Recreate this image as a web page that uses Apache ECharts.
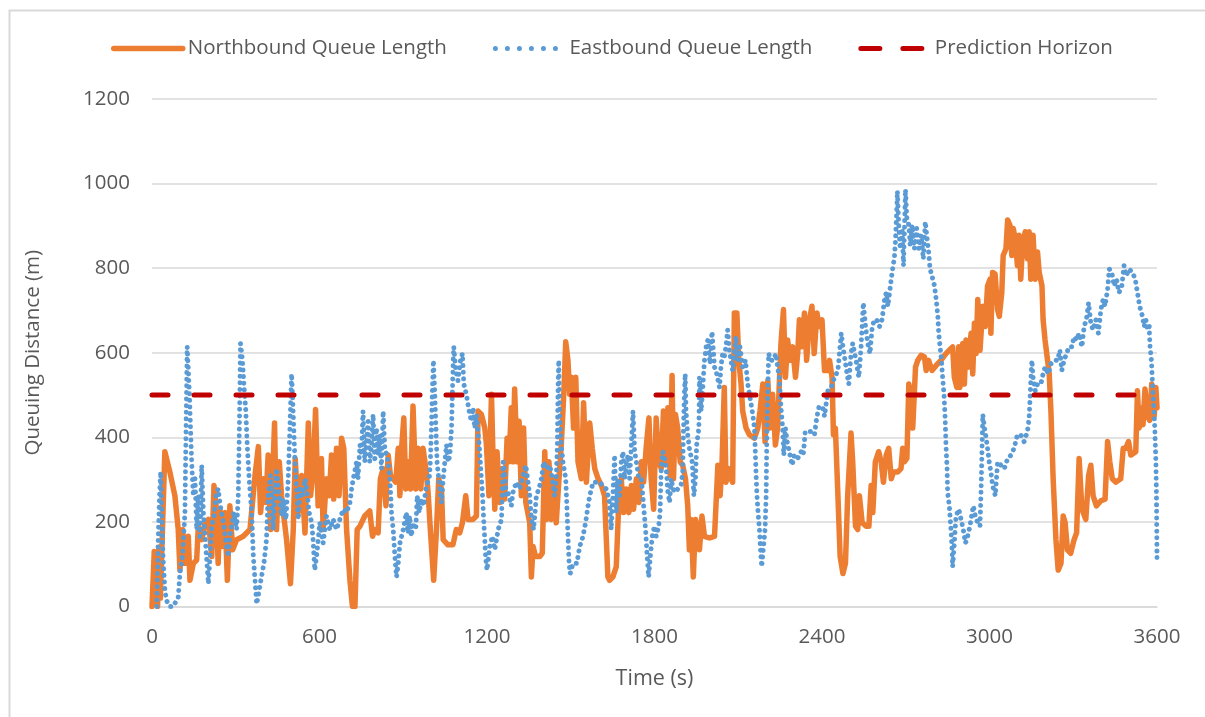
<!DOCTYPE html>
<html>
<head>
<meta charset="utf-8">
<script src="https://cdn.jsdelivr.net/npm/echarts@6/dist/echarts.min.js"></script>
<style>
html,body{margin:0;padding:0;background:#fff;}
#chart{width:1205px;height:717px;}
</style>
</head>
<body>
<div id="chart"></div>
<script>
// ---- data (time in s, queue length in m) ----
const seriesNames = ['Northbound Queue Length', 'Eastbound Queue Length', 'Prediction Horizon'];
const horizonValue = 500;
const timeRange = [0, 3600];

const northbound = [[0,0],[8,130],[12,10],[16,120],[20,0],[25,140],[30,20],[36,150],[46,366],[64,318],[82,262],[94,182],[100,86],[110,182],[118,102],[130,166],[136,62],[148,102],[160,110],[166,190],[178,158],[190,198],[202,206],[214,118],[222,286],[229,246],[237,102],[243,230],[253,142],[261,222],[270,62],[279,238],[289,134],[303,158],[327,166],[351,182],[369,310],[381,378],[389,222],[399,302],[408,246],[416,358],[425,182],[432,302],[439,434],[446,182],[456,342],[464,262],[472,214],[482,158],[496,54],[506,182],[513,350],[524,222],[536,310],[548,174],[560,434],[568,262],[577,318],[586,466],[595,238],[607,350],[613,182],[625,302],[635,262],[643,358],[651,254],[661,374],[670,262],[679,398],[687,374],[697,182],[709,62],[718,0],[727,0],[735,182],[745,190],[762,214],[780,226],[790,166],[798,182],[810,174],[818,302],[828,326],[838,238],[846,358],[854,310],[864,302],[873,294],[882,374],[888,262],[895,382],[902,446],[909,278],[917,342],[926,278],[935,474],[945,278],[953,374],[963,278],[971,374],[981,326],[989,270],[997,182],[1009,62],[1019,182],[1027,302],[1037,278],[1043,158],[1060,146],[1078,146],[1090,182],[1102,174],[1112,198],[1124,262],[1132,206],[1150,206],[1162,214],[1168,462],[1180,454],[1192,422],[1198,382],[1207,262],[1216,502],[1222,342],[1228,230],[1236,366],[1246,246],[1255,326],[1263,254],[1272,398],[1279,342],[1287,470],[1293,342],[1299,514],[1308,342],[1315,438],[1323,262],[1331,422],[1339,246],[1346,246],[1353,198],[1359,70],[1365,142],[1374,118],[1389,118],[1398,126],[1407,366],[1413,206],[1422,342],[1430,206],[1439,302],[1448,198],[1454,262],[1460,262],[1466,382],[1475,502],[1482,626],[1490,582],[1496,502],[1502,542],[1510,422],[1518,542],[1526,342],[1538,302],[1546,482],[1556,294],[1568,434],[1577,374],[1586,326],[1598,302],[1610,286],[1621,262],[1633,70],[1639,62],[1651,70],[1663,94],[1673,262],[1681,302],[1689,222],[1699,278],[1708,222],[1717,286],[1725,230],[1735,302],[1744,246],[1753,342],[1761,294],[1771,382],[1780,446],[1788,302],[1797,230],[1806,446],[1815,342],[1824,326],[1832,462],[1842,342],[1848,470],[1856,310],[1863,546],[1868,302],[1875,454],[1883,422],[1892,342],[1901,334],[1911,302],[1919,238],[1925,134],[1931,206],[1939,70],[1947,206],[1955,182],[1961,134],[1970,214],[1979,166],[1997,162],[2015,166],[2027,334],[2035,262],[2042,342],[2050,518],[2056,294],[2066,326],[2074,302],[2080,294],[2086,694],[2095,694],[2102,582],[2110,526],[2116,462],[2128,422],[2140,406],[2158,398],[2170,422],[2178,462],[2188,526],[2196,390],[2206,534],[2214,422],[2223,502],[2233,382],[2241,422],[2247,526],[2253,622],[2262,702],[2269,542],[2277,630],[2285,582],[2295,614],[2305,542],[2313,598],[2319,678],[2328,614],[2337,694],[2345,582],[2355,678],[2364,710],[2372,598],[2382,694],[2390,662],[2400,678],[2409,558],[2421,558],[2427,582],[2436,542],[2441,406],[2448,422],[2457,262],[2465,118],[2475,78],[2484,102],[2492,262],[2504,410],[2510,342],[2520,190],[2528,182],[2534,262],[2544,198],[2558,190],[2568,190],[2576,286],[2582,222],[2591,342],[2603,366],[2612,342],[2620,294],[2630,358],[2639,374],[2648,302],[2656,318],[2671,318],[2683,326],[2689,374],[2695,342],[2704,350],[2711,526],[2719,502],[2725,422],[2735,566],[2743,582],[2755,594],[2767,590],[2773,558],[2782,582],[2794,558],[2809,570],[2826,582],[2844,598],[2856,606],[2868,614],[2874,542],[2883,518],[2890,614],[2894,518],[2904,622],[2910,526],[2916,630],[2925,566],[2934,646],[2940,550],[2946,670],[2952,598],[2958,726],[2966,606],[2976,710],[2985,662],[2993,758],[3002,774],[3005,646],[3011,790],[3020,786],[3029,702],[3035,686],[3044,742],[3049,830],[3059,846],[3065,914],[3073,902],[3080,830],[3085,894],[3092,870],[3100,806],[3106,878],[3112,774],[3118,854],[3128,886],[3136,822],[3142,886],[3148,774],[3156,878],[3164,774],[3172,838],[3178,790],[3188,758],[3192,678],[3199,630],[3208,582],[3214,550],[3220,462],[3228,302],[3238,158],[3246,86],[3256,102],[3264,214],[3271,198],[3279,134],[3291,126],[3303,158],[3312,174],[3321,350],[3331,230],[3345,206],[3355,310],[3363,334],[3371,262],[3383,238],[3399,250],[3414,254],[3423,390],[3431,342],[3440,302],[3452,294],[3470,302],[3479,374],[3488,374],[3498,390],[3506,358],[3524,366],[3530,510],[3536,422],[3545,470],[3550,430],[3557,514],[3566,450],[3574,440],[3581,526],[3590,450],[3596,518],[3600,470]];

const eastbound = [[17,0],[22,150],[27,260],[31,318],[36,200],[40,110],[46,40],[52,14],[64,0],[76,0],[94,22],[100,78],[110,126],[118,222],[122,422],[126,614],[130,560],[134,502],[138,422],[142,342],[148,262],[154,302],[160,182],[166,262],[172,158],[178,334],[184,222],[190,166],[196,110],[202,54],[208,118],[214,190],[222,214],[229,262],[237,278],[243,246],[249,222],[258,190],[265,150],[273,118],[279,166],[285,190],[293,222],[303,182],[309,262],[313,422],[317,622],[324,582],[329,526],[336,462],[341,382],[348,302],[357,222],[363,118],[369,62],[375,6],[384,38],[392,70],[401,102],[410,158],[416,262],[425,310],[434,182],[440,262],[446,326],[456,262],[464,214],[470,254],[480,206],[488,302],[494,422],[500,550],[506,454],[512,342],[518,278],[524,206],[530,278],[539,262],[548,302],[554,278],[563,222],[572,198],[577,158],[583,86],[592,134],[601,198],[613,150],[625,214],[637,182],[649,206],[661,182],[673,206],[685,230],[697,222],[709,246],[715,278],[721,302],[733,342],[738,302],[745,382],[750,358],[756,462],[762,342],[768,382],[774,438],[780,342],[786,382],[792,454],[798,342],[804,422],[810,358],[816,406],[822,326],[828,462],[834,374],[840,358],[846,342],[852,302],[858,222],[864,182],[870,118],[876,70],[882,102],[888,150],[900,182],[911,222],[917,174],[923,214],[929,166],[935,198],[945,182],[950,262],[957,222],[965,254],[973,238],[983,286],[993,302],[997,342],[1001,422],[1004,502],[1008,582],[1013,502],[1017,422],[1021,342],[1031,278],[1037,246],[1043,302],[1049,342],[1055,382],[1061,342],[1067,358],[1073,422],[1076,502],[1079,582],[1081,614],[1088,558],[1096,534],[1105,582],[1112,598],[1117,526],[1126,502],[1136,462],[1144,438],[1150,470],[1156,422],[1162,454],[1172,382],[1176,342],[1180,302],[1184,262],[1188,206],[1192,158],[1195,118],[1200,86],[1210,142],[1219,166],[1228,134],[1240,182],[1252,206],[1258,342],[1263,318],[1269,262],[1275,270],[1287,238],[1293,270],[1305,294],[1317,278],[1329,310],[1339,334],[1347,294],[1353,262],[1359,206],[1367,182],[1377,262],[1386,278],[1395,302],[1403,342],[1413,326],[1425,334],[1434,302],[1442,262],[1448,302],[1452,382],[1454,502],[1457,582],[1460,454],[1466,382],[1472,342],[1482,302],[1487,222],[1490,166],[1494,102],[1498,78],[1508,102],[1522,102],[1532,142],[1544,166],[1553,198],[1562,238],[1568,262],[1574,278],[1580,294],[1592,294],[1603,294],[1615,286],[1627,278],[1637,254],[1645,182],[1651,262],[1657,358],[1663,222],[1669,302],[1675,262],[1681,342],[1687,366],[1693,302],[1699,334],[1705,358],[1711,302],[1717,382],[1723,462],[1729,366],[1735,342],[1744,302],[1753,302],[1761,238],[1768,182],[1773,126],[1779,70],[1785,118],[1792,166],[1800,190],[1806,166],[1815,190],[1820,222],[1824,326],[1830,366],[1836,350],[1842,326],[1848,270],[1854,246],[1860,302],[1866,278],[1875,270],[1883,278],[1895,286],[1901,318],[1904,422],[1907,502],[1910,550],[1913,462],[1919,406],[1925,374],[1935,342],[1941,262],[1947,302],[1951,382],[1959,422],[1961,542],[1967,462],[1973,518],[1979,582],[1985,614],[1991,630],[1999,574],[2006,650],[2015,566],[2023,550],[2033,518],[2038,566],[2044,598],[2050,590],[2056,614],[2062,654],[2068,606],[2074,582],[2080,558],[2086,598],[2092,638],[2098,582],[2106,614],[2116,566],[2126,582],[2134,526],[2140,502],[2146,478],[2152,454],[2158,422],[2161,366],[2164,310],[2167,262],[2171,222],[2176,182],[2179,142],[2184,94],[2191,90],[2196,182],[2200,262],[2202,382],[2204,462],[2207,542],[2209,598],[2217,582],[2226,582],[2235,598],[2241,566],[2247,542],[2253,470],[2259,422],[2263,358],[2269,422],[2275,390],[2283,366],[2293,334],[2301,358],[2313,350],[2325,366],[2333,358],[2340,414],[2349,414],[2361,414],[2373,406],[2381,446],[2390,474],[2403,470],[2409,450],[2421,510],[2433,518],[2445,542],[2457,558],[2469,646],[2475,614],[2486,566],[2496,526],[2504,598],[2510,622],[2522,582],[2532,542],[2540,614],[2548,718],[2556,662],[2564,622],[2572,598],[2580,662],[2588,678],[2596,678],[2606,662],[2615,678],[2624,726],[2630,742],[2636,710],[2642,742],[2648,774],[2653,798],[2659,822],[2663,862],[2668,942],[2670,982],[2675,902],[2680,846],[2687,894],[2692,806],[2699,986],[2704,918],[2711,902],[2716,854],[2723,902],[2731,846],[2739,894],[2747,846],[2755,878],[2763,822],[2770,910],[2775,878],[2782,838],[2787,798],[2794,782],[2803,758],[2809,726],[2815,686],[2818,646],[2823,614],[2828,582],[2832,542],[2837,502],[2841,446],[2844,382],[2848,326],[2850,270],[2856,238],[2862,182],[2866,134],[2868,94],[2874,150],[2880,214],[2890,230],[2898,206],[2906,182],[2914,150],[2925,174],[2934,206],[2942,238],[2949,214],[2958,198],[2966,190],[2970,278],[2973,366],[2976,454],[2982,422],[2988,398],[2993,374],[2999,342],[3005,318],[3011,286],[3021,262],[3029,342],[3041,334],[3053,326],[3065,350],[3077,358],[3088,374],[3100,406],[3112,406],[3124,390],[3136,414],[3142,446],[3146,502],[3148,534],[3152,582],[3156,542],[3164,510],[3172,526],[3184,526],[3192,550],[3199,566],[3211,550],[3220,574],[3232,582],[3244,582],[3252,606],[3259,558],[3267,582],[3276,598],[3285,614],[3295,614],[3303,638],[3312,630],[3321,646],[3331,614],[3339,662],[3347,678],[3355,718],[3363,670],[3371,654],[3381,678],[3390,646],[3399,702],[3407,726],[3414,710],[3423,750],[3429,798],[3438,790],[3446,758],[3455,774],[3464,742],[3474,758],[3482,806],[3490,782],[3500,798],[3512,790],[3522,774],[3530,742],[3538,710],[3548,686],[3554,662],[3560,678],[3566,654],[3572,662],[3575,614],[3580,582],[3584,526],[3588,478],[3592,422],[3596,342],[3598,262],[3600,110]];

const horizon = [[timeRange[0], horizonValue], [timeRange[1], horizonValue]];

const textColor = '#595959';
const gridColor = '#d9d9d9';
const font = '"Open Sans", sans-serif';

const chart = echarts.init(document.getElementById('chart'), null, {renderer: 'canvas'});
chart.setOption({
  animation: false,
  backgroundColor: '#ffffff',
  textStyle: {fontFamily: font, color: textColor},
  graphic: [{
    type: 'rect', left: 7, top: 8, silent: true,
    shape: {width: 1220, height: 740},
    style: {fill: 'none', stroke: gridColor, lineWidth: 2}
  }],
  legend: {
    top: 33, left: 106,
    itemWidth: 69, itemHeight: 14, itemGap: 46,
    textStyle: {fontFamily: font, fontSize: 20.5, color: textColor},
    itemStyle: {opacity: 0},
    lineStyle: {width: 'inherit', cap: 'round'},
    data: [
      {name: seriesNames[0]},
      {name: seriesNames[1], lineStyle: {type: [0.01, 12], cap: 'round'}},
      {name: seriesNames[2], lineStyle: {type: [19, 23], cap: 'round'}}
    ]
  },
  grid: {left: 152, right: 48, top: 99, bottom: 110.5, containLabel: false},
  xAxis: {
    type: 'value', min: timeRange[0], max: timeRange[1], interval: 600,
    name: 'Time (s)', nameLocation: 'middle', nameGap: 61,
    nameTextStyle: {fontFamily: font, fontSize: 21.5, color: textColor},
    axisLine: {show: true, lineStyle: {color: gridColor, width: 1.5}},
    axisTick: {show: false},
    splitLine: {show: false},
    axisLabel: {fontFamily: font, fontSize: 20.5, color: textColor, margin: 20,
      formatter: function (v) { return String(v); }}
  },
  yAxis: {
    type: 'value', min: 0, max: 1200, interval: 200,
    name: 'Queuing Distance (m)', nameLocation: 'middle', nameGap: 108,
    nameTextStyle: {fontFamily: font, fontSize: 20.5, color: textColor},
    axisLine: {show: false}, axisTick: {show: false},
    splitLine: {lineStyle: {color: gridColor, width: 1.5}},
    axisLabel: {fontFamily: font, fontSize: 20.5, color: textColor, margin: 22,
      formatter: function (v) { return String(v); }}
  },
  series: [
    {
      name: seriesNames[0], type: 'line', data: northbound,
      showSymbol: false, symbol: 'none',
      lineStyle: {color: '#ED7D31', width: 5.5, cap: 'round', join: 'round'},
      itemStyle: {color: '#ED7D31'}, z: 2
    },
    {
      name: seriesNames[1], type: 'line', data: eastbound,
      showSymbol: false, symbol: 'none',
      lineStyle: {color: '#5B9BD5', width: 5, type: [0.01, 6.6], cap: 'round', join: 'round'},
      itemStyle: {color: '#5B9BD5'}, z: 3
    },
    {
      name: seriesNames[2], type: 'line', data: horizon,
      showSymbol: false, symbol: 'none',
      lineStyle: {color: '#C00000', width: 5, type: [16, 26], cap: 'round'},
      itemStyle: {color: '#C00000'}, z: 4
    }
  ]
});
</script>
</body>
</html>
